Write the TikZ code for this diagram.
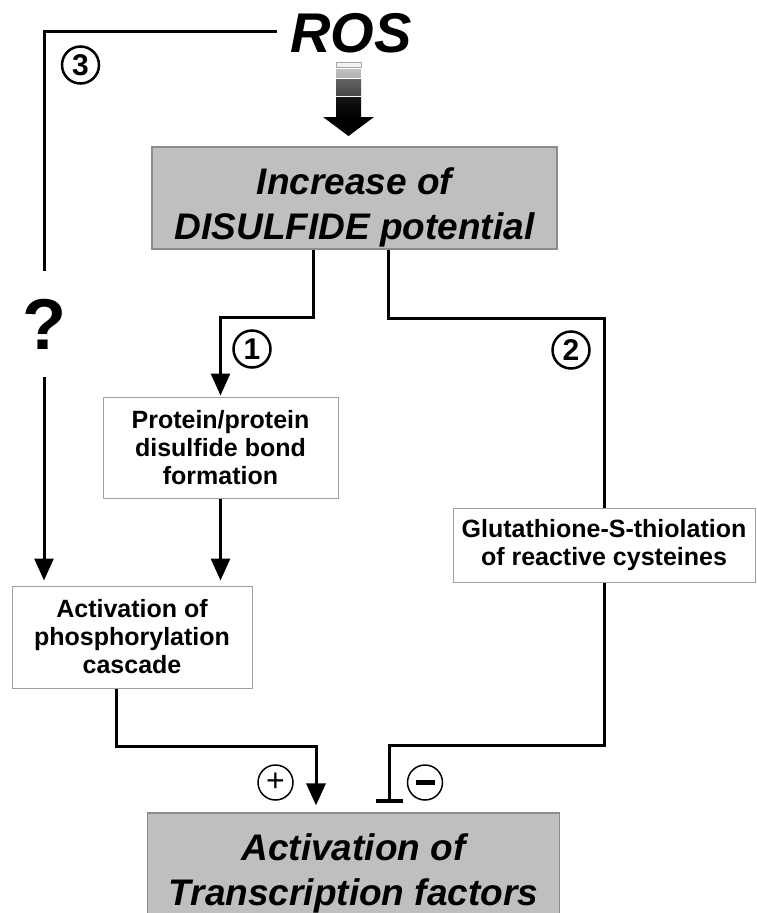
\documentclass[tikz,border=0pt]{standalone}
\usepackage{fontspec}
\setmainfont{Liberation Sans}
\usepackage{tikz}
\usetikzlibrary{arrows.meta,shapes.geometric}

\begin{document}
\begin{tikzpicture}[x=1pt,y=-1pt,
greybox/.style={draw=gray!90, line width=1.2pt, fill=gray!50, align=center, inner sep=0pt, text depth=0pt,
    font=\bfseries\itshape\fontsize{37}{45}\selectfont},
whitebox/.style={draw=gray!75, line width=1pt, fill=white, align=center, inner sep=0pt,
    font=\bfseries\fontsize{25}{28}\selectfont},
num/.style={circle, draw, line width=2.5pt, minimum size=37pt, inner sep=0pt,
    font=\bfseries\fontsize{30}{30}\selectfont},
sign/.style={circle, draw, line width=1.5pt, minimum size=35pt, inner sep=0pt,
    font=\fontsize{32}{32}\selectfont},
link/.style={draw, line width=3pt},
arr/.style={link, -{Triangle[width=19pt,length=22pt]}},
stop/.style={link, -{Bar[width=27pt,line width=4pt]}}]
\useasboundingbox (0,0) rectangle (756,913);

% title and the shaded arrow below it
\node[inner sep=0pt, font=\bfseries\itshape\fontsize{56}{56}\selectfont] (ros) at (351,33) {ROS};
\coordinate (gtop) at (348.5,62);
\filldraw[fill=gray!10, draw=gray!70, line width=0.8pt] ([xshift=-12.5pt]gtop) rectangle ++(25,5);
\shade[top color=gray!40, bottom color=gray!60] ([xshift=-12.5pt]gtop) ++(0,7) rectangle ++(25,8);
\shade[top color=black!50, bottom color=black!72] ([xshift=-12.5pt]gtop) ++(0,17) rectangle ++(25,16);
\shade[top color=black!78, bottom color=black] ([xshift=-12.5pt]gtop) ++(0,35) rectangle ++(25,20);
\fill (gtop) ++(-25.5,55) -- ++(51,0) -- ++(-25.5,19) -- cycle;

% boxes
\node[greybox, text height=82pt, minimum width=405pt, minimum height=102pt] (disulf) at (354.5,198) {Increase of\\DISULFIDE potential};
\node[whitebox, minimum width=235pt, minimum height=101pt] (protein) at (220.5,447.5) {Protein/protein\\disulfide bond\\formation};
\node[whitebox, minimum width=302pt, minimum height=74pt] (gluta) at (604,545) {Glutathione-S-thiolation\\of reactive cysteines};
\node[whitebox, minimum width=240pt, minimum height=102pt] (phos) at (132,637) {Activation of\\phosphorylation\\cascade};
\node[greybox, minimum width=412pt, minimum height=114pt] (transc) at (353.5,870) {Activation of\\Transcription factors};

\node[inner sep=0pt, minimum height=106pt, font=\bfseries\fontsize{72}{72}\selectfont] (qmark) at (44,324) {?};

% numbers and signs
\node[num] (n3) at (80.5,65) {3};
\node[num] (n1) at (252,349) {1};
\node[num] (n2) at (571,350) {2};
\node[sign] (plus) at (275.5,782.5) {+};
\node[sign] (minus) at (425,782.5) {\rule{19pt}{5pt}};

% connectors
\draw[link] ([xshift=-13pt,yshift=2pt]ros.west) -| (qmark.north);
\draw[arr, shorten >=5pt] (qmark.south) -- (qmark.south |- phos.north);
\draw[arr, shorten >=1pt] ([xshift=-41.5pt]disulf.south) -- ++(0,68) -| (protein.north);
\draw[link] ([xshift=33.5pt]disulf.south) -- ++(0,69) -| (gluta.north);
\draw[arr, shorten >=5pt] (protein.south) -- (protein.south |- phos.north);
\draw[arr, shorten >=7pt] ([xshift=-16pt]phos.south) -- ++(0,58) -| ([xshift=-37.5pt]transc.north);
\draw[stop, shorten >=9pt] (gluta.south) -- ++(0,163) -| ([xshift=36pt]transc.north);
\end{tikzpicture}
\end{document}
